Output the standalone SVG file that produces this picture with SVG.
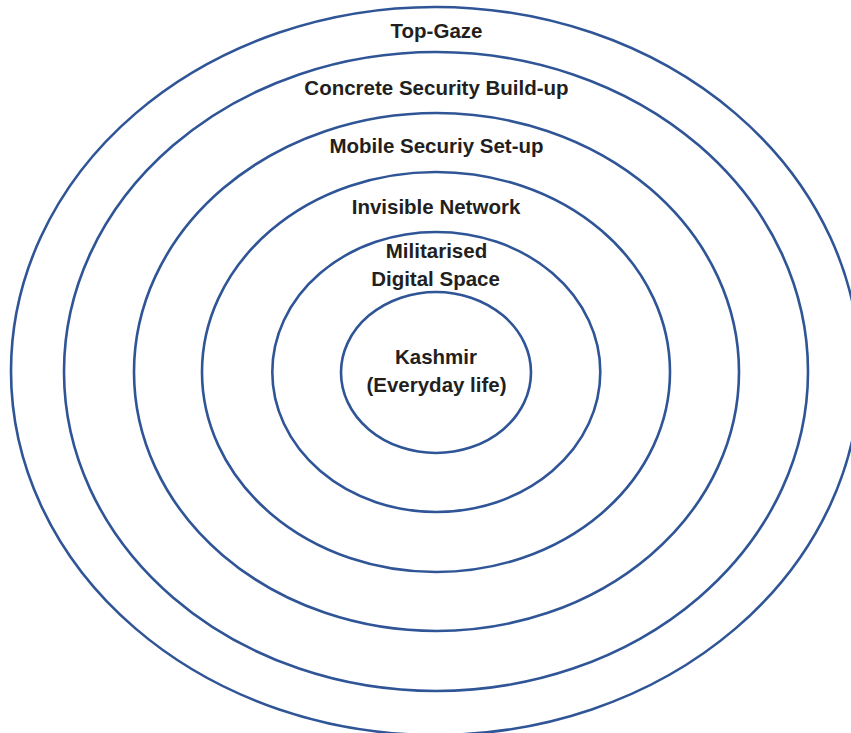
<svg xmlns="http://www.w3.org/2000/svg" width="851" height="733" viewBox="0 0 851 733">
<style>
.ring{fill:none;stroke:#2f5597;stroke-width:2.6}
.lbl{font-family:"Liberation Sans",Arial,sans-serif;font-weight:bold;font-size:20.5px;fill:#231f20;text-anchor:middle}
</style>
<rect width="851" height="733" fill="#fff"/>
<g id="ring-top-gaze"><ellipse class="ring" cx="435.5" cy="371" rx="424.5" ry="364"/><text class="lbl" x="436.5" y="37.5">Top-Gaze</text></g>
<g id="ring-concrete"><ellipse class="ring" cx="436" cy="371.5" rx="372" ry="319.5"/><text class="lbl" x="436.5" y="95">Concrete Security Build-up</text></g>
<g id="ring-mobile"><ellipse class="ring" cx="436.5" cy="372" rx="302.5" ry="259"/><text class="lbl" x="436.5" y="153">Mobile Securiy Set-up</text></g>
<g id="ring-invisible"><ellipse class="ring" cx="436" cy="372" rx="234" ry="200"/><text class="lbl" x="436" y="214">Invisible Network</text></g>
<g id="ring-digital"><ellipse class="ring" cx="436.3" cy="372" rx="164" ry="140"/><text class="lbl" x="436.5" y="258">Militarised</text><text class="lbl" x="435.5" y="286">Digital Space</text></g>
<g id="core-kashmir"><ellipse class="ring" cx="436" cy="372.5" rx="95" ry="80.5"/><text class="lbl" x="436" y="364">Kashmir</text><text class="lbl" x="436.5" y="391.5">(Everyday life)</text></g>
</svg>
